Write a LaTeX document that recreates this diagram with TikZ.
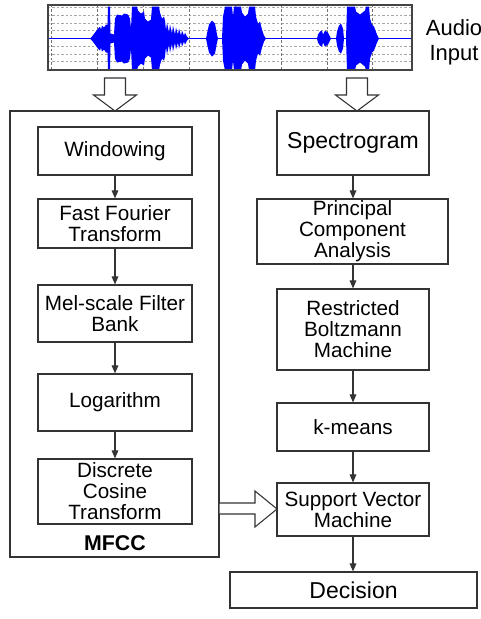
\documentclass[tikz,border=0pt]{standalone}
\usepackage{fontspec}
\setmainfont{Liberation Sans}
\usetikzlibrary{arrows.meta,calc}

\definecolor{edge}{HTML}{333333}
\definecolor{frame}{HTML}{444444}
\definecolor{wavecol}{HTML}{0000FF}

% upper half of the speech envelope (x, -amplitude); mirrored for the lower half
\newcommand\envelope{%
  \fill[wavecol] plot coordinates {(48,0)(90,0)(92,-2)(95,-6)(98,-10)(100,-12)(101,-9)(102,-13)(104,-11)(106,-14)(107.5,-14)(108,-32)(110,-32)(110.5,-5)(114,-4)(115,-20)(117,-24)(122,-23)(124,-25)(128,-24)(130,-20)(131,-10)(132,-32)(137,-32)(138,-28)(141,-25)(144,-27)(145,-20)(148,-17)(151,-19)(152,-32)(159,-32)(160,-26)(162,-20)(164,-22)(165,-18)(166,-8)(167,-16)(169,-6)(170,-14)(172,-5)(173,-13)(175,-4)(176,-11)(178,-4)(179,-10)(181,-3)(182,-8)(184,-3)(185,-6)(187,-2)(189,0)(206,0)(207,-5)(209,-14)(212,-18)(215,-15)(217,-4)(218,0)(222,0)(223,-22)(225,-32)(232,-32)(233,-22)(234,-32)(241,-32)(242,-26)(245,-22)(248,-25)(249,-32)(255,-32)(256,-22)(258,-15)(260,-17)(262,-9)(264,-3)(266,0)(317,0)(318,-4)(320,-7)(322,-8)(323,-4)(325,-8)(328,-6)(330,-2)(331,0)(336,0)(337,-7)(339,-13)(341,-15)(343,-10)(344,0)(346,0)(347,-32)(355,-32)(356,-27)(360,-24)(365,-28)(366,-32)(369,-32)(370,-20)(372,-14)(374,-12)(377,-4)(379,0)(412,0)} -- cycle;}

% hollow block arrows: x, top, neck, tip
\newcommand\hollowdown[4]{%
  \draw[hollow] (#1-10.5,#2) -- (#1+10.5,#2) -- (#1+10.5,#3) -- (#1+21.5,#3)
    -- (#1,#4) -- (#1-21.5,#3) -- (#1-10.5,#3) -- cycle;}

\begin{document}
\begin{tikzpicture}[x=0.75pt,y=-0.75pt,
  box/.style={draw=edge, line width=0.9pt, fill=white, inner sep=0pt,
    align=center, font=\fontsize{15.5}{15.75}\selectfont},
  bigtext/.style={font=\fontsize{17.25}{18}\selectfont},
  conn/.style={draw=edge, line width=0.8pt, -{Triangle[length=6pt,width=5pt]}},
  hollow/.style={draw=edge, line width=0.8pt, fill=white, line join=miter},
  grid/.style={dash pattern=on 1.8pt off 1.5pt, line width=0.55pt}]
\useasboundingbox (0,0) rectangle (481,619);

% ---- audio waveform panel ----
\foreach \k in {-4,...,3}
  \draw[grid, black!35] (48,38.5+\k*7.75) -- (412,38.5+\k*7.75);
\foreach \k in {0,...,7}
  \draw[grid, black!55] (51.5+\k*45.9,5) -- (51.5+\k*45.9,70);
\begin{scope}[shift={(0,38.5)}]
  \envelope
\end{scope}
\begin{scope}[shift={(0,38.5)},yscale=-1]
  \envelope
\end{scope}
\draw[wavecol, line width=0.8pt] (48,38.5) -- (412,38.5);
\node[draw=frame, line width=1.5pt, minimum width=273pt, minimum height=48.75pt,
  inner sep=0pt] (wave) at (230,37.5) {};
\node[align=center, font=\fontsize{16.5}{18.75}\selectfont] (audio) at (454,42) {Audio\\Input};

% ---- MFCC branch ----
\node[draw=edge, line width=0.9pt, minimum width=156.75pt, minimum height=334.5pt,
  inner sep=0pt] (mfcc) at (114.5,334) {};
\node[box, minimum width=115.5pt, minimum height=36pt]    (win) at (115,151)   {Windowing};
\node[box, minimum width=115.5pt, minimum height=36.75pt] (fft) at (115,223.5) {Fast Fourier\\Transform};
\node[box, minimum width=115.5pt, minimum height=42.75pt] (mel) at (115,313.5) {Mel-scale Filter\\Bank};
\node[box, minimum width=115.5pt, minimum height=42.75pt] (log) at (115,402.5) {Logarithm};
\node[box, minimum width=115.5pt, minimum height=48.75pt] (dct) at (115,491.5) {Discrete\\Cosine\\Transform};
\node[anchor=base, inner sep=0pt, font=\fontsize{16}{16}\selectfont\bfseries] (mfcclabel) at (115,550) {MFCC};

\draw[conn] (win) -- (fft);
\draw[conn] (fft) -- (mel);
\draw[conn] (mel) -- (log);
\draw[conn] (log) -- (dct);

% ---- spectrogram branch ----
\node[box, bigtext, minimum width=114pt, minimum height=48pt] (spec) at (353,143) {Spectrogram};
\node[box, minimum width=143.25pt, minimum height=48.75pt] (pca) at (352.5,231.5) {Principal\\Component\\Analysis};
\node[box, minimum width=114pt, minimum height=60.75pt] (rbm) at (353,329.5) {Restricted\\Boltzmann\\Machine};
\node[box, minimum width=114pt, minimum height=36pt] (kmeans) at (353,427) {k-means};
\node[box, minimum width=114pt, minimum height=39.75pt] (svm) at (353,509.5) {Support Vector\\Machine};
\node[box, bigtext, minimum width=185.25pt, minimum height=27pt] (dec) at (353.5,590) {Decision};

\draw[conn] (spec.south) -- (spec.south |- pca.north);
\draw[conn] (pca.south -| spec.south) -- (rbm.north);
\draw[conn] (rbm) -- (kmeans);
\draw[conn] (kmeans) -- (svm);
\draw[conn] (svm) -- (svm.south |- dec.north);

% ---- block arrows ----
\hollowdown{115}{78}{95}{111}
\hollowdown{357}{78}{95}{111}
\draw[hollow] (219,503) -- (255,503) -- (255,491) -- (277,509)
  -- (255,527) -- (255,514) -- (219,514) -- cycle;
\end{tikzpicture}
\end{document}
